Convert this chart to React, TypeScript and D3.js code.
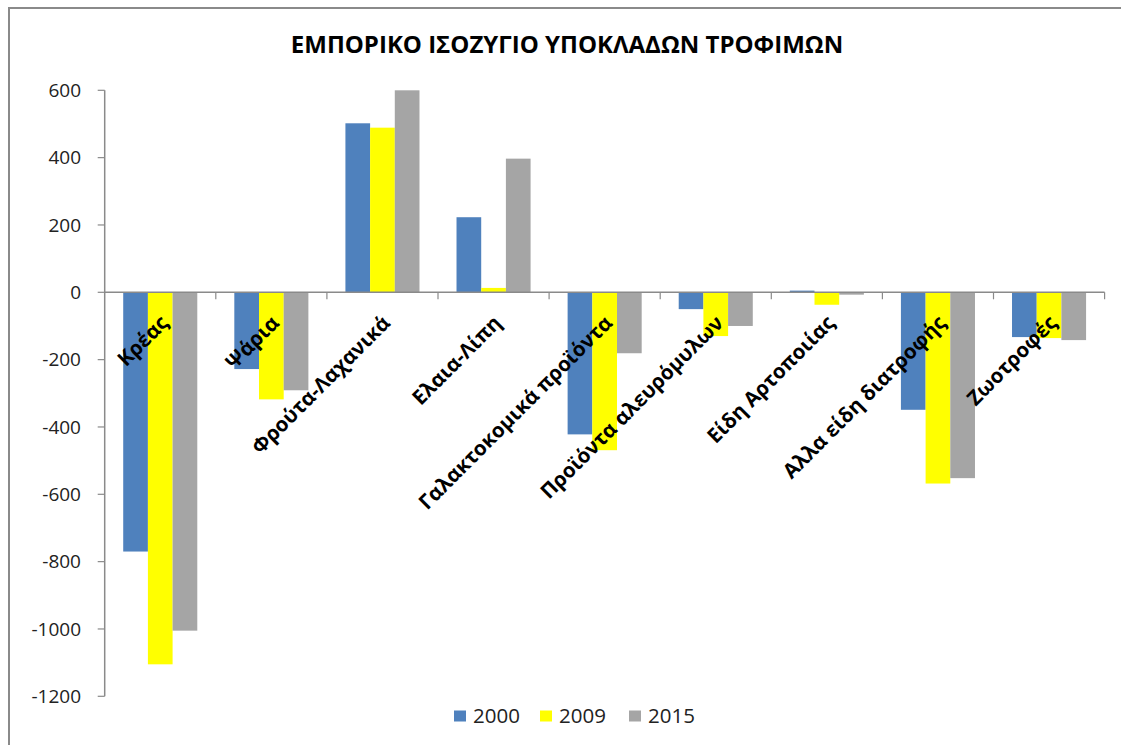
import React, { useEffect, useRef } from 'react';
import * as d3 from 'd3';

// Εμπορικό ισοζύγιο υποκλάδων τροφίμων
const categories = [
  'Κρέας',
  'Ψάρια',
  'Φρούτα-Λαχανικά',
  'Ελαια-Λίπη',
  'Γαλακτοκομικά προϊόντα',
  'Προϊόντα αλευρόμυλων',
  'Είδη Αρτοποιίας',
  'Αλλα είδη διατροφής',
  'Ζωοτροφές',
];
const years = ['2000', '2009', '2015'];
const values2000 = [-770, -228, 502, 223, -422, -50, 5, -349, -133];
const values2009 = [-1105, -318, 489, 13, -469, -130, -37, -568, -136];
const values2015 = [-1005, -291, 600, 397, -181, -100, -7, -552, -142];
const yTicks = [600, 400, 200, 0, -200, -400, -600, -800, -1000, -1200];
const colors = ['#4F81BD', '#FFFF00', '#A5A5A5'];

const W = 1121;
const H = 745;
const FONT = '"Open Sans", "Noto Sans", sans-serif';

export default function App() {
  const svgRef = useRef<SVGSVGElement>(null);

  useEffect(() => {
    const svg = d3.select(svgRef.current);
    svg.selectAll('*').remove();

    const series = [values2000, values2009, values2015];
    const left = 104.7;
    const right = 1104.6;
    const top = 90.3;
    const bottom = 696.3;

    // outer frame (runs off the right and bottom of the picture)
    svg.append('rect')
      .attr('x', 9).attr('y', 8)
      .attr('width', 1200).attr('height', 800)
      .attr('fill', '#fff')
      .attr('stroke', '#8a8a8a')
      .attr('stroke-width', 2);

    const y = d3.scaleLinear().domain([-1200, 600]).range([bottom, top]);
    const x0 = d3.scaleBand<string>().domain(categories).range([left, right]).padding(0);
    const x1 = d3.scaleBand<string>().domain(years).range([0, x0.bandwidth()])
      .paddingInner(0).paddingOuter(0.75);

    // title
    svg.append('text')
      .attr('x', 567).attr('y', 53)
      .attr('text-anchor', 'middle')
      .attr('font-family', FONT)
      .attr('font-weight', 700)
      .attr('font-size', 24)
      .attr('fill', '#000')
      .text('ΕΜΠΟΡΙΚΟ ΙΣΟΖΥΓΙΟ ΥΠΟΚΛΑΔΩΝ ΤΡΟΦΙΜΩΝ');

    // y axis
    const yAxis = svg.append('g');
    yAxis.append('line')
      .attr('x1', left).attr('x2', left)
      .attr('y1', y(600)).attr('y2', y(-1200))
      .attr('stroke', '#8a8a8a').attr('stroke-width', 1.5);
    yTicks.forEach((t) => {
      yAxis.append('line')
        .attr('x1', left - 7).attr('x2', left)
        .attr('y1', y(t)).attr('y2', y(t))
        .attr('stroke', '#8a8a8a').attr('stroke-width', 1.2);
      yAxis.append('text')
        .attr('x', 81).attr('y', y(t))
        .attr('dy', '0.35em')
        .attr('text-anchor', 'end')
        .attr('font-family', FONT)
        .attr('font-size', 19)
        .attr('fill', '#222')
        .text(String(t));
    });

    // bars
    categories.forEach((c, i) => {
      series.forEach((vals, s) => {
        const v = vals[i];
        svg.append('rect')
          .attr('x', (x0(c) as number) + (x1(years[s]) as number))
          .attr('y', y(Math.max(0, v)))
          .attr('width', x1.bandwidth())
          .attr('height', Math.abs(y(v) - y(0)))
          .attr('fill', colors[s]);
      });
    });

    // zero line with category ticks
    svg.append('line')
      .attr('x1', left).attr('x2', right)
      .attr('y1', y(0)).attr('y2', y(0))
      .attr('stroke', '#8a8a8a').attr('stroke-width', 1.5);
    categories.forEach((c) => {
      const xt = (x0(c) as number) + x0.bandwidth();
      svg.append('line')
        .attr('x1', xt).attr('x2', xt)
        .attr('y1', y(0)).attr('y2', y(0) + 7)
        .attr('stroke', '#8a8a8a').attr('stroke-width', 1.2);
    });

    // category labels, rotated
    categories.forEach((c) => {
      const cx = (x0(c) as number) + x0.bandwidth() / 2;
      svg.append('text')
        .attr('transform', `translate(${cx + 9},${y(0) + 32}) rotate(-45)`)
        .attr('text-anchor', 'end')
        .attr('font-family', FONT)
        .attr('font-weight', 700)
        .attr('font-size', 20.5)
        .attr('fill', '#000')
        .text(c);
    });

    // legend
    const legendX = [454, 540, 629];
    years.forEach((yr, s) => {
      svg.append('rect')
        .attr('x', legendX[s]).attr('y', 710.5)
        .attr('width', 12).attr('height', 11)
        .attr('fill', colors[s]);
      svg.append('text')
        .attr('x', legendX[s] + 19).attr('y', 716)
        .attr('dy', '0.35em')
        .attr('font-family', FONT)
        .attr('font-size', 20.5)
        .attr('fill', '#222')
        .text(yr);
    });
  }, []);

  return (
    <svg
      ref={svgRef}
      width={W}
      height={H}
      style={{ position: 'absolute', left: 0, top: 0, background: '#fff' }}
    />
  );
}
